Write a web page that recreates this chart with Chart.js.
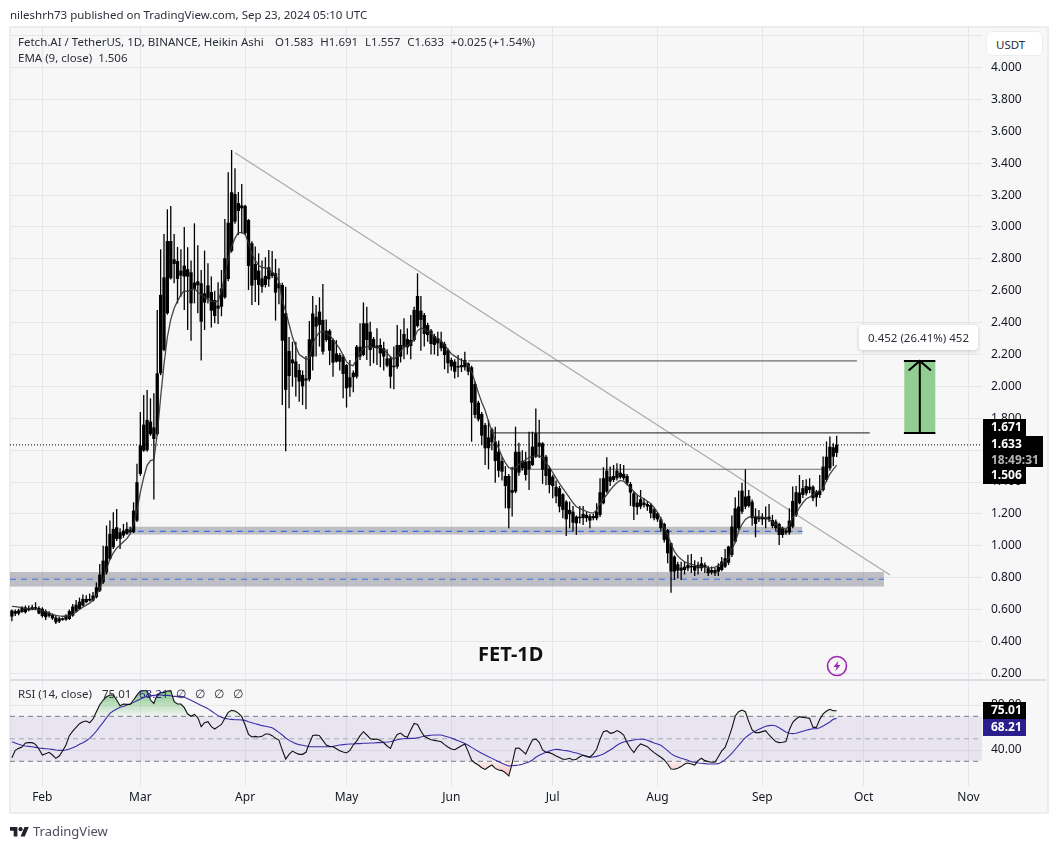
<!DOCTYPE html>
<html>
<head>
<meta charset="utf-8">
<title>FET-1D</title>
<script src="https://cdn.jsdelivr.net/npm/chart.js@4/dist/chart.umd.js"></script>
<style>
  html, body { margin: 0; padding: 0; background: #fff; }
  body { width: 1058px; height: 849px; position: relative; overflow: hidden; font-family: "Noto Sans", sans-serif; color: #2a2e39; }
  #frame { position: absolute; left: 9px; top: 26px; width: 1036px; height: 784px; background: #f7f7f7; border: 2px solid #ecedf0; }
  #divider { position: absolute; left: 10px; top: 679px; width: 1036px; height: 2px; background: #dcdde6; }
  canvas { position: absolute; left: 0; }
  #priceCanvas { top: 0; }
  #rsiCanvas { top: 680px; }
  .txt { position: absolute; white-space: pre; font-size: 11.5px; line-height: 16px; }
  .tag { position: absolute; left: 983px; width: 35px; padding-left: 8px; background: #000; color: #fff; font-size: 12px; font-weight: bold; line-height: 16px; }
</style>
</head>
<body>
<div id="frame"></div>
<canvas id="priceCanvas" width="1058" height="680"></canvas>
<canvas id="rsiCanvas" width="1058" height="169"></canvas>
<div id="divider"></div>

<div class="txt" style="left:10px;top:7px">nileshrh73 published on TradingView.com, Sep 23, 2024 05:10 UTC</div>
<div class="txt" style="left:18px;top:34px">Fetch.AI / TetherUS, 1D, BINANCE, Heikin Ashi</div>
<div class="txt" style="left:275px;top:34px;word-spacing:-0.7px">O1.583   H1.691   L1.557   C1.633   +0.025 (+1.54%)</div>
<div class="txt" style="left:18px;top:50px">EMA (9, close)  1.506</div>
<div class="txt" style="left:18px;top:686px">RSI (14, close)</div>
<div class="txt" style="left:102px;top:686px">75.01</div>
<div class="txt" style="left:139px;top:686px;color:#2a1e8c">68.21</div>
<div class="txt" style="left:176px;top:686px">∅   ∅   ∅   ∅</div>
<div class="txt" style="left:478px;top:641px;font-size:20px;line-height:26px;font-weight:bold;color:#111">FET-1D</div>

<div class="txt" style="left:986px;top:31px;width:57px;height:25px;line-height:25px;background:#fff;border:1px solid #ecedf0;border-radius:6px;box-sizing:border-box;text-indent:9px">USDT</div>

<div class="txt" style="left:859px;top:325px;width:119px;height:25px;line-height:25px;background:#fff;border-radius:4px;box-shadow:0 1px 4px rgba(0,0,0,.18);text-align:center">0.452 (26.41%) 452</div>

<div class="tag" style="top:419px;height:17px">1.671</div>
<div class="tag" style="top:436px;height:31px;width:52px">1.633<br><span style="color:#b5b5b5">18:49:31</span></div>
<div class="tag" style="top:467px;height:17px">1.506</div>
<div class="tag" style="top:702px;height:17px">75.01</div>
<div class="tag" style="top:719px;height:17px;background:#2a1e8c">68.21</div>

<svg style="position:absolute;left:826px;top:655px" width="22" height="22" viewBox="0 0 22 22">
  <circle cx="11" cy="11" r="9.5" fill="none" stroke="#9c27b0" stroke-width="1.6"/>
  <path d="M12.6 5.8 L7.4 12 H10.6 L9.4 16.2 L14.6 10 H11.4 Z" fill="#9c27b0"/>
</svg>
<svg style="position:absolute;left:10px;top:825px" width="19" height="14.8" viewBox="0 0 36 28">
  <path d="M14 22H7V11H0V4h14v18zM28 22h-8l7.5-18h8L28 22z" fill="#1f222b"/>
  <circle cx="20" cy="8" r="4" fill="#1f222b"/>
</svg>
<div class="txt" style="left:33px;top:823px;font-size:13px;color:#4a4e59">TradingView</div>

<script>
  // Heikin Ashi candles, one per day. First value is Jan 23, last is Sep 23.
  // The x axis counts days from Feb 1.
  const firstDay = -9;

  const bodyTop = [
    .594,.59,.595,.61,.614,.61,.615,.615,.61,.605,
    .59,.58,.565,.55,.545,.545,.562,.59,.619,.631,
    .65,.667,.667,.667,.688,.74,.819,.907,.997,1.075,
    1.106,1.116,1.085,1.095,1.106,1.10,1.221,1.399,1.629,1.76,
    1.79,1.78,1.743,2.082,2.574,2.684,2.912,2.912,2.797,2.787,
    2.726,2.758,2.735,2.716,2.651,2.659,2.647,2.584,2.634,2.592,
    2.542,2.507,2.615,2.804,3.027,3.218,3.207,3.15,3.136,3.132,
    3.044,2.898,2.768,2.726,2.678,2.693,2.747,2.716,2.71,2.647,
    2.636,2.459,2.222,2.17,2.157,2.103,2.072,2.05,2.295,2.458,
    2.437,2.469,2.417,2.35,2.35,2.291,2.207,2.197,2.187,2.134,
    2.057,2.086,2.249,2.249,2.396,2.396,2.343,2.297,2.256,2.26,
    2.239,2.176,2.176,2.13,2.26,2.26,2.329,2.297,2.291,2.479,
    2.567,2.475,2.448,2.385,2.35,2.316,2.302,2.281,2.266,2.228,
    2.166,2.155,2.128,2.134,2.166,2.145,2.12,2.015,1.898,1.827,
    1.758,1.68,1.73,1.653,1.59,1.532,1.438,1.438,1.35,1.59,
    1.59,1.532,1.528,1.532,1.622,1.706,1.647,1.643,1.559,1.486,
    1.434,1.37,1.361,1.323,1.277,1.225,1.214,1.183,1.183,1.2,
    1.194,1.187,1.187,1.214,1.336,1.424,1.472,1.434,1.438,1.472,
    1.459,1.451,1.438,1.388,1.329,1.271,1.292,1.271,1.262,1.256,
    1.229,1.204,1.166,1.137,1.099,1.016,.932,.884,.863,.869,
    .88,.874,.874,.88,.89,.88,.859,.848,.848,.869,
    .901,.922,.995,1.12,1.235,1.246,1.346,1.309,1.313,1.277,
    1.183,1.183,1.183,1.179,1.183,1.162,1.152,1.137,1.11,1.095,
    1.158,1.281,1.336,1.334,1.361,1.375,1.371,1.371,1.34,1.346,
    1.497,1.559,1.622,1.618,1.633
  ];

  const bodyBottom = [
    .556,.573,.575,.585,.583,.595,.60,.605,.575,.56,
    .552,.56,.545,.52,.525,.535,.537,.541,.562,.589,
    .604,.625,.646,.656,.656,.677,.719,.771,.834,.918,
    .991,1.043,1.043,1.064,1.075,1.085,1.085,1.158,1.451,1.597,
    1.60,1.70,1.67,1.70,2.082,2.229,2.459,2.678,2.768,2.674,
    2.695,2.689,2.689,2.521,2.609,2.634,2.406,2.525,2.553,2.475,
    2.442,2.488,2.50,2.559,2.674,2.85,3.034,3.10,3.117,2.96,
    2.756,2.632,2.668,2.636,2.626,2.636,2.672,2.693,2.588,2.615,
    2.287,1.978,2.065,2.145,2.057,2.03,2.0,2.036,2.044,2.187,
    2.375,2.385,2.218,2.291,2.224,2.149,2.155,2.155,2.078,1.988,
    1.994,2.057,2.061,2.187,2.197,2.291,2.228,2.243,2.239,2.207,
    2.187,2.13,2.061,2.12,2.124,2.187,2.245,2.245,2.253,2.291,
    2.379,2.417,2.329,2.322,2.266,2.26,2.27,2.239,2.197,2.145,
    2.124,2.092,2.118,2.12,2.12,2.092,1.898,1.821,1.793,1.691,
    1.612,1.612,1.65,1.532,1.471,1.465,1.375,1.235,1.333,1.34,
    1.459,1.486,1.444,1.48,1.507,1.559,1.622,1.476,1.438,1.382,
    1.375,1.31,1.246,1.225,1.166,1.198,1.145,1.141,1.173,1.173,
    1.173,1.158,1.173,1.173,1.194,1.267,1.34,1.403,1.413,1.424,
    1.43,1.424,1.392,1.334,1.246,1.242,1.246,1.256,1.246,1.204,
    1.173,1.166,1.11,1.037,.953,.838,.838,.844,.844,.848,
    .859,.865,.844,.859,.859,.865,.828,.832,.828,.838,
    .848,.869,.894,.943,1.026,1.11,1.214,1.246,1.25,1.173,
    1.137,1.166,1.166,1.166,1.166,1.124,1.11,1.068,1.068,1.083,
    1.083,1.12,1.194,1.267,1.319,1.329,1.35,1.298,1.304,1.319,
    1.35,1.413,1.486,1.559,1.583
  ];

  const highs = [
    .60,.60,.605,.62,.625,.625,.63,.646,.62,.615,
    .60,.59,.575,.56,.555,.55,.57,.60,.635,.66,
    .675,.695,.69,.70,.71,.77,.886,1.00,1.127,1.158,
    1.21,1.231,1.11,1.137,1.148,1.12,1.273,1.514,1.84,1.946,
    1.978,1.925,1.957,2.48,2.86,2.956,3.111,3.132,2.956,2.875,
    2.86,3.0,2.873,2.79,3.023,2.885,2.73,2.852,2.772,2.69,
    2.60,2.653,2.73,3.05,3.343,3.483,3.368,3.22,3.27,3.14,
    3.05,2.91,2.877,2.835,2.79,2.81,2.856,2.85,2.80,2.741,
    2.65,2.625,2.31,2.28,2.28,2.141,2.10,2.19,2.41,2.567,
    2.51,2.559,2.642,2.42,2.36,2.30,2.29,2.21,2.20,2.14,
    2.166,2.10,2.26,2.396,2.527,2.5,2.406,2.31,2.364,2.30,
    2.28,2.233,2.19,2.25,2.385,2.358,2.427,2.364,2.448,2.50,
    2.709,2.567,2.46,2.40,2.36,2.33,2.343,2.343,2.28,2.24,
    2.18,2.17,2.197,2.176,2.218,2.15,2.13,2.03,1.91,1.84,
    1.77,1.79,1.74,1.747,1.66,1.56,1.50,1.45,1.496,1.747,
    1.647,1.60,1.59,1.716,1.716,1.862,1.79,1.65,1.57,1.50,
    1.445,1.41,1.375,1.33,1.285,1.277,1.25,1.19,1.25,1.25,
    1.215,1.20,1.20,1.267,1.424,1.493,1.555,1.497,1.507,1.518,
    1.513,1.507,1.45,1.40,1.34,1.319,1.35,1.298,1.28,1.265,
    1.24,1.21,1.18,1.145,1.105,1.02,.94,.90,.90,.90,
    .943,.949,.91,.90,.93,.895,.875,.87,.86,.89,
    .93,.98,1.00,1.19,1.304,1.346,1.396,1.48,1.35,1.29,
    1.235,1.225,1.204,1.246,1.262,1.194,1.165,1.145,1.12,1.105,
    1.235,1.372,1.375,1.444,1.413,1.417,1.424,1.38,1.35,1.444,
    1.56,1.654,1.685,1.643,1.691
  ];

  const lows = [
    .527,.56,.565,.58,.575,.59,.595,.60,.57,.55,
    .535,.55,.535,.51,.515,.53,.53,.535,.555,.58,
    .60,.62,.64,.65,.65,.67,.71,.76,.82,.91,
    .98,1.03,.98,1.05,1.07,1.08,1.08,1.15,1.44,1.59,
    1.59,1.69,1.29,1.69,2.07,2.22,2.45,2.67,2.647,2.521,
    2.563,2.479,2.354,2.287,2.521,2.459,2.162,2.354,2.52,2.369,
    2.396,2.392,2.44,2.55,2.66,2.84,3.02,2.95,2.96,2.95,
    2.605,2.51,2.53,2.51,2.588,2.62,2.625,2.68,2.413,2.515,
    1.883,1.593,1.863,1.998,1.936,1.904,1.883,1.856,2.03,2.10,
    2.187,2.25,2.20,2.28,2.134,2.061,2.15,2.10,1.925,1.867,
    1.935,1.963,2.05,2.165,2.19,2.165,2.128,2.145,2.134,2.12,
    2.10,2.12,1.988,1.982,2.11,2.15,2.17,2.20,2.17,2.28,
    2.37,2.224,2.25,2.28,2.20,2.20,2.19,2.22,2.107,2.082,
    2.10,2.05,2.057,2.09,2.10,2.07,1.653,1.80,1.78,1.632,
    1.507,1.48,1.60,1.396,1.43,1.41,1.235,1.11,1.183,1.33,
    1.44,1.47,1.41,1.35,1.50,1.55,1.55,1.388,1.38,1.329,
    1.298,1.267,1.21,1.173,1.062,1.11,1.09,1.068,1.14,1.13,
    1.15,1.11,1.16,1.16,1.18,1.26,1.33,1.375,1.40,1.41,
    1.42,1.41,1.38,1.25,1.162,1.194,1.23,1.24,1.22,1.173,
    1.16,1.15,1.09,1.02,.89,.706,.786,.795,.786,.82,
    .84,.83,.81,.82,.84,.83,.81,.82,.81,.81,
    .84,.86,.88,.93,1.02,1.10,1.20,1.23,1.24,1.125,
    1.053,1.15,1.13,1.11,1.15,1.11,1.09,1.005,1.05,1.07,
    1.07,1.11,1.18,1.26,1.30,1.315,1.33,1.28,1.246,1.30,
    1.34,1.40,1.47,1.50,1.557
  ];

  const emaValues = [
    .62,.618,.615,.612,.608,.605,.603,.60,.598,.592,
    .585,.577,.57,.563,.56,.558,.558,.562,.572,.585,
    .60,.615,.628,.64,.66,.69,.735,.79,.855,.915,
    .955,.985,1.005,1.025,1.045,1.075,1.14,1.225,1.335,1.43,
    1.505,1.535,1.54,1.70,1.93,2.14,2.31,2.42,2.49,2.535,
    2.575,2.60,2.595,2.605,2.615,2.59,2.575,2.56,2.545,2.535,
    2.53,2.535,2.60,2.70,2.80,2.88,2.93,2.965,2.965,2.955,
    2.90,2.83,2.79,2.76,2.745,2.745,2.735,2.715,2.70,2.66,
    2.54,2.47,2.39,2.31,2.25,2.20,2.185,2.17,2.175,2.27,
    2.31,2.34,2.345,2.33,2.32,2.295,2.265,2.235,2.195,2.155,
    2.135,2.13,2.17,2.21,2.24,2.25,2.25,2.245,2.245,2.245,
    2.23,2.21,2.185,2.17,2.19,2.22,2.25,2.255,2.27,2.30,
    2.35,2.365,2.36,2.345,2.335,2.31,2.30,2.285,2.26,2.23,
    2.205,2.19,2.175,2.165,2.155,2.13,2.09,2.03,1.96,1.90,
    1.85,1.78,1.72,1.66,1.61,1.56,1.52,1.49,1.485,1.49,
    1.51,1.525,1.54,1.555,1.56,1.565,1.565,1.555,1.52,1.495,
    1.46,1.425,1.39,1.36,1.33,1.30,1.27,1.245,1.235,1.225,
    1.215,1.208,1.205,1.225,1.265,1.295,1.32,1.35,1.375,1.395,
    1.41,1.405,1.385,1.365,1.34,1.32,1.305,1.295,1.28,1.265,
    1.24,1.21,1.17,1.11,1.07,1.01,.965,.935,.915,.90,
    .89,.885,.878,.87,.868,.866,.863,.862,.866,.875,
    .89,.90,.92,.98,1.02,1.09,1.135,1.165,1.18,1.185,
    1.183,1.18,1.178,1.175,1.165,1.15,1.135,1.12,1.11,1.105,
    1.13,1.18,1.20,1.24,1.27,1.295,1.305,1.32,1.335,1.345,
    1.36,1.41,1.45,1.48,1.506
  ];

  const rsiValues = [
    33.2,39.7,41.5,42.7,46.3,46.6,46.6,45.1,40.9,35.6,
    36.8,38,35.6,32.6,34.7,39.1,44.5,52.8,56.9,60.2,
    63.4,65.2,65.8,64.3,67.6,74.1,80.3,84.5,87.4,88.9,
    88.9,84.5,79.4,80.9,80.6,80.6,84.5,88.9,92.5,92.8,
    92.8,84.5,81.5,89.5,91,91.3,92.5,92.8,83,80.9,
    80.9,77.7,72,70,71.7,68.8,60.8,64.3,65.2,60.8,
    58.7,60.8,62.8,68.2,73.5,75.3,74.7,72.9,69.7,62.3,
    54,51.6,52.2,51.6,52.2,54.3,54.3,52.8,50.4,48.9,
    40,32,36.2,39.1,37.4,36.2,36.2,38,45.9,53,
    53.4,52.8,48.6,44.5,43.3,43,41.2,39.4,38.3,37.4,
    39.7,44.5,48,52.8,56.3,53.4,50.1,49.5,49.8,48.6,
    46.5,43.6,41.5,48.9,53.9,55.1,52.5,51.3,57.8,63.7,
    62.8,56.9,52.2,50.7,49.2,48.6,48,47.4,44.8,42.7,
    40.9,40.3,42.1,43.9,45.4,38.6,31.1,28.5,26.7,24.3,
    22.8,24.9,26.7,23.7,22.3,21.7,19.9,16.9,28.2,41.5,
    41.8,39.2,36.5,43,49,49.9,46.9,40.1,38,37.7,
    36.5,34.7,33.3,31.8,31.8,32.7,31.2,31.8,34.1,35.3,
    34.7,33.6,36.5,40.7,49.6,56.4,57.3,54.9,55.5,57.3,
    55.8,53.4,46.6,41.6,37.7,42.4,45.4,44.2,43,40.1,
    37.7,35.6,33.6,31.2,27.6,23.2,22.9,23.8,25.3,27.6,
    28.5,27.6,26.7,30.6,32.7,30.6,29.7,29.1,29.1,34.1,
    39.2,42.4,50.4,59.3,70.3,74.1,75.6,74.1,65.3,57.9,
    55.5,55.5,56.4,57.3,53.4,50.4,47.5,46.6,46.9,47.5,
    57.9,64.7,67.6,69.7,69.1,68.8,68.2,60.2,60.2,67.3,
    72.1,74.7,76.2,75,75.01
  ];

  const rsiMaValues = [
    47.4,46.3,45.1,44.2,43.6,43.3,43,42.4,41.8,41.5,
    41.2,40.9,40.6,40,39.7,39.7,40,40.9,42.1,43.3,
    45.1,46.5,48.3,50.4,53.4,56.9,60.8,64.6,68.8,72.6,
    74.7,76.5,78,78.8,80,80.9,82.4,83.9,85.4,86.8,
    87.7,88.3,88.6,88.9,88.9,88.6,88.6,88.3,87.7,87.7,
    87.7,87.1,85.7,84.2,82.7,81.2,79.7,78.3,76.8,74.7,
    72.6,70.6,69.1,68.2,67.6,67.3,67,67,66.7,66.4,
    65.2,64.3,63.4,62.6,61.7,61.1,60.5,59.9,57.8,55.7,
    53.4,50.7,48.6,47.1,45.7,44.8,44.2,43.6,43,43,
    43,43,43,43,43,43.3,43.9,44.5,44.8,45.1,
    45.4,45.4,45.7,45.7,46,46,46.3,46.3,46.6,46.6,
    46.9,47.1,47.4,48.3,49.2,49.8,50.1,50.4,50.4,50.4,
    51,51.6,52.5,52.8,53.1,53.4,53.4,53.4,52.5,51.6,
    50.7,49.5,48.3,47.1,45.9,44.2,42.4,40.6,38.8,37.1,
    35.6,34.1,32.6,31.1,29.7,28.2,27,25.8,26.1,26.4,
    26.7,27.3,28.5,29.4,31.2,33.6,35.3,36.8,38,39.2,
    40.1,40.7,40.4,39.8,39.5,38.9,38,37.4,36.5,35.3,
    34.1,33.6,33.9,34.4,35.3,36.5,38.3,40.1,42.1,44.2,
    46,47.2,47.8,48.4,49,49.6,49.6,49.6,48.7,47.5,
    46.3,45.4,44.2,41.9,39.5,36.8,35,33.9,32.7,31.8,
    30.9,29.7,29.1,28.5,28.2,27.9,27.6,27.6,27.6,27.9,
    29.4,31.5,34.1,37.1,40.7,44.2,47.8,51,53.4,55.5,
    57,58.4,59.9,61.1,61.7,62,61.4,59.9,57.9,56.1,
    54.9,54.6,54.9,55.8,56.7,57.6,58.4,59,59,59.9,
    61.4,63.2,65,67.3,68.21
  ];

  // axis ticks. 4.2 keeps its grid line, its label sits behind the USDT box
  const priceTicks = [0.2,0.4,0.6,0.8,1.0,1.2,1.4,1.6,1.8,2.0,2.2,2.4,2.6,2.8,3.0,3.2,3.4,3.6,3.8,4.0,4.2];
  const unlabelledPrice = 4.2;
  const rsiTicks = [40, 80];
  const monthDays = [0, 29, 60, 90, 121, 151, 182, 213, 243, 274];
  const monthLabels = ['Feb', 'Mar', 'Apr', 'May', 'Jun', 'Jul', 'Aug', 'Sep', 'Oct', 'Nov'];

  // drawn levels: [day, price]
  const trendLine = [[57, 3.466], [250.8, 0.817]];
  const levelTarget = [[126, 2.16], [241, 2.16]];
  const levelResist = [[133.3, 1.708], [244.8, 1.708]];
  const levelMid = [[138.4, 1.48], [231, 1.48]];
  const zoneUpper = { from: 25, to: 224.9, top: 1.12, bottom: 1.07, mid: 1.09 };
  const zoneLower = { from: -9.56, to: 249, top: 0.835, bottom: 0.743, mid: 0.79 };
  const lastClose = 1.633;
  const measure = { left: 254.9, right: 264.2, center: 259.6, low: 1.708, high: 2.16, headDay: 3.3, headPrice: 0.06 };

  const xMin = -9.56, xMax = 278;
  const gridColor = '#e6e6ea';
  const tickFont = { family: '"Noto Sans", sans-serif', size: 12 };

  const days = bodyTop.map((_, i) => firstDay + i);
  const toPoints = pairs => pairs.map(p => ({ x: p[0], y: p[1] }));

  function lineSet(points, color, width, order, dash) {
    return { type: 'line', data: toPoints(points), borderColor: color, borderWidth: width, pointRadius: 0,
      order: order, borderDash: dash || [], tension: 0, fill: false };
  }

  function zoneSet(z) {
    return { type: 'line', data: toPoints([[z.from, z.top], [z.to, z.top]]), borderWidth: 0, pointRadius: 0, order: 20,
      fill: { target: { value: z.bottom }, above: 'rgba(120,123,134,0.45)', below: 'transparent' } };
  }

  function xAxis(showLabels) {
    return {
      type: 'linear', min: xMin, max: xMax, offset: false,
      grid: { color: gridColor, drawTicks: false, offset: false },
      border: { display: false },
      afterBuildTicks: s => { s.ticks = monthDays.map(v => ({ value: v })); },
      afterFit: s => { s.height = showLabels ? 27.3 : 0; s.paddingLeft = 0; s.paddingRight = 0; },
      ticks: { display: showLabels, autoSkip: false, maxRotation: 0, padding: 5, color: '#131722', font: tickFont,
        callback: v => monthLabels[monthDays.indexOf(v)] }
    };
  }

  function yAxis(tickValues, digits, min, max, noLabel) {
    return {
      position: 'right', min: min, max: max,
      grid: { color: gridColor, drawTicks: false },
      border: { display: false },
      afterBuildTicks: s => { s.ticks = tickValues.map(v => ({ value: v })); },
      // keep the pane edges fixed, labels at the ends must not push them in
      afterFit: s => { s.width = 66; s.paddingTop = 0; s.paddingBottom = 0; },
      ticks: { padding: 9, color: '#131722', font: tickFont, autoSkip: false,
        callback: v => (v === noLabel ? '' : v.toFixed(digits)) }
    };
  }

  // Price pane
  new Chart(document.getElementById('priceCanvas'), {
    type: 'bar',
    data: {
      datasets: [
        zoneSet(zoneUpper),
        zoneSet(zoneLower),
        lineSet([[zoneUpper.from, zoneUpper.mid], [zoneUpper.to, zoneUpper.mid]], '#3f6fe6', 1.2, 19, [6, 5]),
        lineSet([[zoneLower.from, zoneLower.mid], [zoneLower.to, zoneLower.mid]], '#3f6fe6', 1.2, 19, [6, 5]),
        lineSet([[xMin, lastClose], [xMax, lastClose]], '#000', 1, 18, [1, 2]),
        lineSet(trendLine, '#a9a9b0', 1.2, 17),
        lineSet(levelTarget, '#6e6e6e', 1.1, 16),
        lineSet(levelResist, '#444', 1.2, 16),
        lineSet(levelMid, '#6e6e6e', 1.1, 16),
        {
          label: 'measure', type: 'bar', grouped: false, barThickness: 31, inflateAmount: 0, order: 15,
          backgroundColor: '#92cd92',
          data: [{ x: measure.center, y: [measure.low, measure.high] }]
        },
        lineSet([[measure.left, measure.low], [measure.right, measure.low]], '#000', 2, 14),
        lineSet([[measure.left, measure.high], [measure.right, measure.high]], '#000', 2, 14),
        lineSet([[measure.center, measure.low], [measure.center, measure.high]], '#000', 2, 14),
        lineSet([[measure.center - measure.headDay, measure.high - measure.headPrice], [measure.center, measure.high],
          [measure.center + measure.headDay, measure.high - measure.headPrice]], '#000', 2, 14),
        {
          label: 'wicks', type: 'bar', grouped: false, barThickness: 1.3, inflateAmount: 0, order: 4,
          backgroundColor: '#000',
          data: days.map((d, i) => ({ x: d, y: [lows[i], highs[i]] }))
        },
        {
          label: 'bodies', type: 'bar', grouped: false, barThickness: 3.3, inflateAmount: 0, order: 3,
          backgroundColor: '#000',
          data: days.map((d, i) => ({ x: d, y: [bodyBottom[i], bodyTop[i]] }))
        },
        {
          label: 'EMA', type: 'line', order: 2, borderColor: 'rgba(50,50,50,0.9)', borderWidth: 1.3, pointRadius: 0, tension: 0, fill: false,
          data: days.map((d, i) => ({ x: d, y: emaValues[i] }))
        }
      ]
    },
    options: {
      responsive: false, animation: false, events: [],
      layout: { padding: { left: 10, right: 10, top: 26, bottom: 0 } },
      plugins: { legend: { display: false }, tooltip: { enabled: false } },
      scales: { x: xAxis(false), y: yAxis(priceTicks, 3, 0.158, 4.261, unlabelledPrice) }
    }
  });

  // RSI pane
  const rsiCanvas = document.getElementById('rsiCanvas');
  const rsiCtx = rsiCanvas.getContext('2d');
  const greenFade = rsiCtx.createLinearGradient(0, 8, 0, 36);
  greenFade.addColorStop(0, 'rgba(76,175,80,0.75)');
  greenFade.addColorStop(1, 'rgba(76,175,80,0.04)');
  const redFade = rsiCtx.createLinearGradient(0, 81, 0, 100);
  redFade.addColorStop(0, 'rgba(255,82,82,0.04)');
  redFade.addColorStop(1, 'rgba(255,82,82,0.45)');

  const rsiPoints = days.map((d, i) => ({ x: d, y: rsiValues[i] }));

  new Chart(rsiCanvas, {
    type: 'line',
    data: {
      datasets: [
        {
          data: toPoints([[xMin, 70], [xMax, 70]]), borderWidth: 0, pointRadius: 0, order: 10,
          fill: { target: { value: 30 }, above: 'rgba(126,87,194,0.11)', below: 'transparent' }
        },
        lineSet([[xMin, 70], [xMax, 70]], '#787b86', 1, 9, [5, 4]),
        lineSet([[xMin, 50], [xMax, 50]], '#a3a5ae', 1, 9, [5, 4]),
        lineSet([[xMin, 30], [xMax, 30]], '#787b86', 1, 9, [5, 4]),
        {
          data: rsiPoints, borderWidth: 0, pointRadius: 0, order: 8, tension: 0,
          fill: { target: { value: 70 }, above: greenFade, below: 'transparent' }
        },
        {
          data: rsiPoints, borderWidth: 0, pointRadius: 0, order: 8, tension: 0,
          fill: { target: { value: 30 }, above: 'transparent', below: redFade }
        },
        { label: 'RSI-MA', data: days.map((d, i) => ({ x: d, y: rsiMaValues[i] })), borderColor: '#3a2ea8', borderWidth: 1.1, pointRadius: 0, order: 3, tension: 0, fill: false },
        { label: 'RSI', data: rsiPoints, borderColor: '#111', borderWidth: 1.1, pointRadius: 0, order: 2, tension: 0, fill: false }
      ]
    },
    options: {
      responsive: false, animation: false, events: [],
      layout: { padding: { left: 10, right: 10, top: 0, bottom: 36 } },
      plugins: { legend: { display: false }, tooltip: { enabled: false } },
      scales: { x: xAxis(true), y: yAxis(rsiTicks, 2, 8.3, 102.3) }
    }
  });
</script>
</body>
</html>
